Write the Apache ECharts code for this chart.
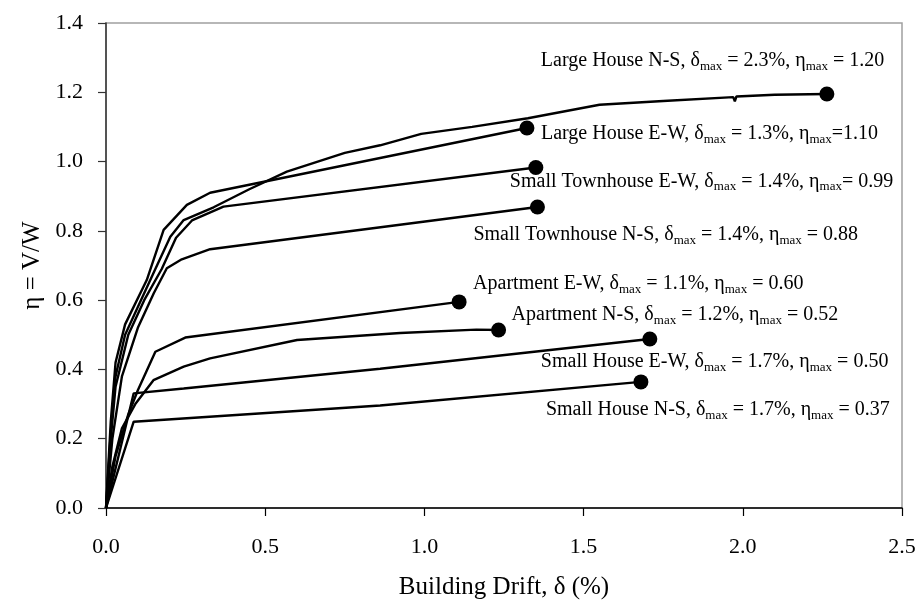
<!DOCTYPE html>
<html>
<head>
<meta charset="utf-8">
<script src="https://cdn.jsdelivr.net/npm/echarts@6/dist/echarts.min.js"></script>
<style>
  html, body { margin: 0; padding: 0; background: #fff; }
  #chart { width: 921px; height: 614px; }
</style>
</head>
<body>
<div id="chart"></div>
<script>
  // building drift (%) vs base shear coefficient, one array per curve
  var largeHouseNS = [[0, 0], [0.015, 0.22], [0.03, 0.38], [0.06, 0.5], [0.1, 0.58], [0.155, 0.69], [0.202, 0.783], [0.244, 0.831], [0.338, 0.868], [0.45, 0.92], [0.568, 0.971], [0.75, 1.025], [0.861, 1.047], [0.99, 1.08], [1.15, 1.1], [1.325, 1.125], [1.55, 1.164], [1.75, 1.175], [1.97, 1.186], [1.975, 1.174], [1.98, 1.188], [2.1, 1.193], [2.264, 1.195]];
  var largeHouseEW = [[0, 0], [0.015, 0.25], [0.03, 0.42], [0.06, 0.53], [0.128, 0.658], [0.181, 0.803], [0.254, 0.875], [0.327, 0.91], [1.322, 1.097]];
  var smallTownEW = [[0, 0], [0.015, 0.2], [0.03, 0.35], [0.07, 0.5], [0.12, 0.6], [0.175, 0.69], [0.22, 0.78], [0.27, 0.83], [0.369, 0.87], [1.35, 0.983]];
  var smallTownNS = [[0, 0], [0.02, 0.2], [0.05, 0.38], [0.1, 0.52], [0.15, 0.62], [0.191, 0.692], [0.238, 0.718], [0.327, 0.747], [1.355, 0.869]];
  var apartmentEW = [[0, 0], [0.03, 0.15], [0.07, 0.27], [0.1, 0.34], [0.155, 0.451], [0.249, 0.492], [1.109, 0.595]];
  var apartmentNS = [[0, 0], [0.02, 0.12], [0.05, 0.23], [0.092, 0.3], [0.149, 0.369], [0.244, 0.408], [0.327, 0.432], [0.6, 0.485], [0.924, 0.505], [1.163, 0.515], [1.233, 0.514]];
  var smallHouseEW = [[0, 0], [0.087, 0.331], [0.244, 0.345], [0.861, 0.402], [1.708, 0.488]];
  var smallHouseNS = [[0, 0], [0.087, 0.249], [0.861, 0.296], [1.68, 0.364]];

  var curveNames = ['Large House N-S', 'Large House E-W', 'Small Townhouse E-W', 'Small Townhouse N-S', 'Apartment E-W', 'Apartment N-S', 'Small House E-W', 'Small House N-S'];
  var deltaMaxText = [' = 2.3%, ', ' = 1.3%, ', ' = 1.4%, ', ' = 1.4%, ', ' = 1.1%, ', ' = 1.2%, ', ' = 1.7%, ', ' = 1.7%, '];
  var etaMaxText = [' = 1.20', '=1.10', '= 0.99', ' = 0.88', ' = 0.60', ' = 0.52', ' = 0.50', ' = 0.37'];
  var curves = [largeHouseNS, largeHouseEW, smallTownEW, smallTownNS, apartmentEW, apartmentNS, smallHouseEW, smallHouseNS];

  var xTicks = [0, 0.5, 1, 1.5, 2, 2.5];
  var yTicks = [0, 0.2, 0.4, 0.6, 0.8, 1.0, 1.2, 1.4];

  // label offset from the end dot (left edge of text, vertical centre)
  var labelOffsets = [[-286, -33], [14, 6], [-26, 14], [-64, 28], [14, -18], [13, -15], [-109, 23], [-95, 28]];

  var serif = 'Liberation Serif, Times New Roman, serif';

  var series = curves.map(function (c, i) {
    return {
      name: curveNames[i],
      type: 'line',
      data: c,
      symbol: 'none',
      lineStyle: { color: '#000', width: 2.4 },
      z: 3
    };
  });

  series.push({
    type: 'scatter',
    symbol: 'circle',
    symbolSize: 15,
    itemStyle: { color: '#000', opacity: 1 },
    z: 5,
    data: curves.map(function (c, i) {
      var last = c[c.length - 1];
      return {
        name: curveNames[i],
        value: last,
        label: {
          show: true,
          position: 'inside',
          align: 'left',
          verticalAlign: 'middle',
          offset: labelOffsets[i],
          formatter: '{n|' + curveNames[i] + ', δ}{s|max}{n|' + deltaMaxText[i] + 'η}{s|max}{n|' + etaMaxText[i] + '}',
          rich: {
            n: { fontFamily: serif, fontSize: 20, color: '#000' },
            s: { fontFamily: serif, fontSize: 13, color: '#000', padding: [11, 0, 0, 0] }
          }
        }
      };
    })
  });

  var chart = echarts.init(document.getElementById('chart'));
  chart.setOption({
    animation: false,
    backgroundColor: '#fff',
    grid: {
      left: 106, right: 19, top: 23, bottom: 106,
      show: true, borderColor: '#a0a0a0', borderWidth: 1.5
    },
    xAxis: {
      type: 'value',
      min: xTicks[0], max: xTicks[xTicks.length - 1], interval: 0.5,
      name: 'Building Drift, δ (%)',
      nameLocation: 'middle', nameGap: 67,
      nameTextStyle: { fontFamily: serif, fontSize: 25, color: '#000' },
      axisLine: { show: true, lineStyle: { color: '#000', width: 1.5 } },
      axisTick: { show: true, length: 8, lineStyle: { color: '#000', width: 1.2 } },
      axisLabel: { fontFamily: serif, fontSize: 22, color: '#000', margin: 28,
        formatter: function (v) { return v.toFixed(1); } },
      splitLine: { show: false }
    },
    yAxis: {
      type: 'value',
      min: yTicks[0], max: yTicks[yTicks.length - 1], interval: 0.2,
      name: 'η = V/W',
      nameLocation: 'middle', nameGap: 60,
      nameTextStyle: { fontFamily: serif, fontSize: 25, color: '#000' },
      axisLine: { show: true, lineStyle: { color: '#333', width: 1.5 } },
      axisTick: { show: true, length: 8, lineStyle: { color: '#333', width: 1.2 } },
      axisLabel: { fontFamily: serif, fontSize: 22, color: '#000', margin: 23,
        formatter: function (v) { return v.toFixed(1); } },
      splitLine: { show: false }
    },
    series: series
  });
</script>
</body>
</html>
